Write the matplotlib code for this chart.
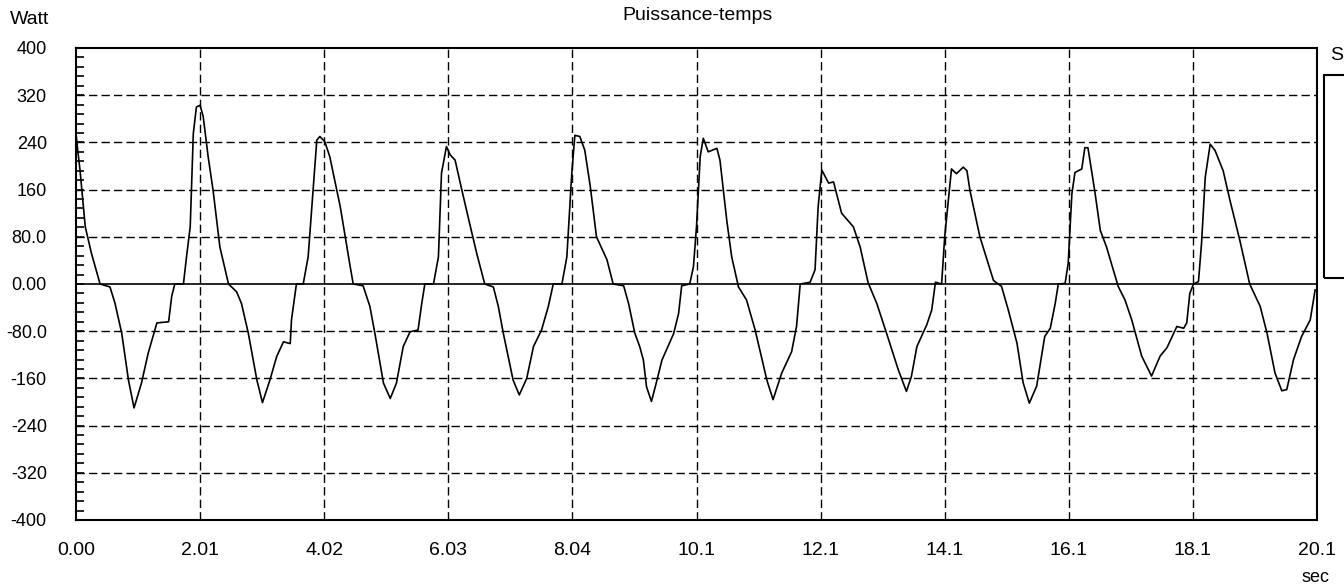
import matplotlib.pyplot as plt
from matplotlib.ticker import FixedLocator, MultipleLocator
from matplotlib.patches import Rectangle

plt.rcParams['font.family'] = ['Liberation Sans', 'DejaVu Sans']

# power trace (time in s, power in W)
t = [0.00, 0.03, 0.065, 0.15, 0.25, 0.39, 0.55, 0.63, 0.74, 0.85, 0.94, 1.06, 1.17, 1.31,
     1.50, 1.55, 1.60, 1.74, 1.79, 1.85, 1.90, 1.95, 2.01, 2.06, 2.14, 2.22, 2.33, 2.47,
     2.60, 2.68, 2.79, 2.93, 3.02, 3.14, 3.25, 3.36, 3.47, 3.49, 3.57, 3.68, 3.76, 3.84,
     3.90, 3.95, 4.03, 4.11, 4.28, 4.44, 4.49, 4.65, 4.76, 4.84, 4.98, 5.09, 5.19, 5.30,
     5.41, 5.54, 5.60, 5.65, 5.79, 5.87, 5.92, 6.00, 6.06, 6.14, 6.25, 6.35, 6.49, 6.62,
     6.76, 6.84, 6.92, 7.08, 7.18, 7.30, 7.41, 7.54, 7.65, 7.73, 7.87, 7.95, 8.03, 8.08,
     8.16, 8.24, 8.33, 8.43, 8.60, 8.70, 8.87, 8.95, 9.05, 9.13, 9.19, 9.24, 9.32, 9.41,
     9.49, 9.68, 9.76, 9.81, 9.94, 10.00, 10.05, 10.11, 10.16, 10.24, 10.38, 10.43, 10.54,
     10.62, 10.73, 10.86, 11.00, 11.19, 11.29, 11.43, 11.59, 11.67, 11.73, 11.89, 11.97,
     12.02, 12.08, 12.19, 12.27, 12.40, 12.59, 12.70, 12.83, 12.97, 13.13, 13.32, 13.45,
     13.53, 13.62, 13.78, 13.86, 13.92, 14.02, 14.07, 14.13, 14.18, 14.26, 14.37, 14.43,
     14.48, 14.64, 14.86, 14.99, 15.10, 15.24, 15.34, 15.44, 15.56, 15.69, 15.78, 15.86,
     15.91, 16.02, 16.07, 16.13, 16.18, 16.29, 16.34, 16.39, 16.50, 16.59, 16.69, 16.88,
     16.99, 17.10, 17.26, 17.42, 17.56, 17.67, 17.83, 17.94, 17.99, 18.04, 18.10, 18.18,
     18.23, 18.29, 18.37, 18.45, 18.58, 18.69, 18.85, 19.01, 19.18, 19.29, 19.42, 19.53,
     19.61, 19.72, 19.85, 19.99, 20.07]
power = [255, 225, 193, 97, 52, 0, -5, -32, -83, -163, -210, -168, -117, -66,
         -64, -21, 0, 0, 46, 97, 255, 300, 303, 284, 216, 159, 63, 0,
         -13, -33, -83, -163, -201, -163, -123, -98, -101, -61, 0, 0, 46, 159,
         244, 250, 241, 216, 131, 30, 0, -3, -38, -83, -168, -194, -168, -106,
         -81, -78, -33, 0, 0, 46, 188, 233, 219, 210, 159, 114, 52, 0,
         -5, -38, -83, -163, -188, -160, -106, -78, -38, 0, 0, 46, 188, 252,
         250, 227, 165, 80, 41, 0, -3, -33, -83, -106, -129, -174, -199, -163,
         -129, -84, -50, -3, 0, 29, 97, 216, 247, 224, 230, 210, 108,
         46, -5, -27, -78, -163, -196, -151, -115, -72, 0, 3, 24,
         131, 193, 171, 173, 120, 97, 63, 2, -33, -84, -146, -182,
         -157, -106, -69, -44, 3, 0, 80, 142, 195, 187, 198, 192,
         158, 80, 6, -4, -44, -100, -167, -202, -173, -89, -75, -33,
         0, 1, 35, 153, 189, 195, 231, 231, 158, 91, 63, -4,
         -27, -61, -122, -156, -122, -108, -72, -75, -66, -16, 0, 4,
         69, 181, 237, 226, 192, 142, 74, 0, -38, -83, -151, -181,
         -179, -128, -89, -61, -10]

x_ticks = [0.0, 2.01, 4.02, 6.03, 8.04, 10.05, 12.06, 14.07, 16.08, 18.09, 20.1]
x_labels = ["0.00", "2.01", "4.02", "6.03", "8.04", "10.1", "12.1", "14.1", "16.1", "18.1", "20.1"]
y_ticks = [400, 320, 240, 160, 80, 0, -80, -160, -240, -320, -400]
y_labels = ["400", "320", "240", "160", "80.0", "0.00", "-80.0", "-160", "-240", "-320", "-400"]

fig = plt.figure(figsize=(13.44, 5.84), dpi=100)
ax = fig.add_axes([76 / 1344, 1 - 520 / 584, 1241 / 1344, 472 / 584])

grid_style = dict(color="black", lw=1.0, linestyle=(0, (6, 3)))
for yv in y_ticks[1:-1]:
    if yv != 0:
        ax.axhline(yv, **grid_style, zorder=1)
for xv in x_ticks[1:-1]:
    ax.axvline(xv, **grid_style, zorder=1)
ax.axhline(0, color="black", lw=1.2, zorder=2)

ax.plot(t, power, color="black", lw=1.2, zorder=3)

ax.set_xlim(0, 20.1)
ax.set_ylim(-400, 400)
ax.xaxis.set_major_locator(FixedLocator(x_ticks))
ax.set_xticklabels(x_labels)
ax.yaxis.set_major_locator(FixedLocator(y_ticks))
ax.set_yticklabels(y_labels)
ax.yaxis.set_minor_locator(MultipleLocator(16))
ax.tick_params(axis="y", which="both", direction="in", length=6, width=1.2,
               labelsize=13, pad=21)
ax.tick_params(axis="x", which="both", direction="in", length=0, labelsize=14, pad=16)
for sp in ax.spines.values():
    sp.set_linewidth(1.5)

fig.text(697 / 1344, 1 - 15 / 584, "Puissance-temps", ha="center", va="center", fontsize=14)
fig.text(10 / 1344, 1 - 19 / 584, "Watt", ha="left", va="center", fontsize=14)
fig.text(1316 / 1344, 1 - 577 / 584, "sec", ha="center", va="center", fontsize=13)

# legend box cut off at the right edge
fig.patches.append(Rectangle((1324 / 1344, 1 - 278 / 584), 0.05, 203 / 584,
                             transform=fig.transFigure, fill=False,
                             edgecolor="black", lw=1.5))
fig.text(1343 / 1344, 1 - 56 / 584, "S", ha="right", va="center", fontsize=14)

fig.savefig("out.png", dpi=100)
